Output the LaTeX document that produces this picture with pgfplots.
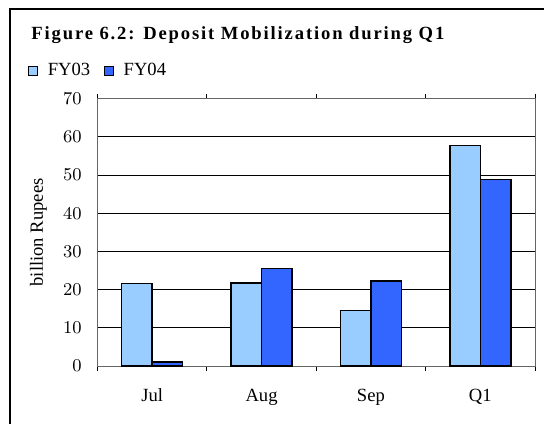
\documentclass[border=0pt]{standalone}
\usepackage{pgfplots}
\pgfplotsset{compat=1.18}
\usepackage{fontspec}
\setmainfont{Liberation Serif}
\newfontfamily\titlefont[LetterSpace=10]{Liberation Serif}
\definecolor{fyA}{RGB}{153,204,255}
\definecolor{fyB}{RGB}{51,102,255}

\begin{document}
\begin{tikzpicture}[font=\fontsize{9.3}{11}\selectfont]
\useasboundingbox (0pt,0pt) rectangle (272pt,212pt);
% outer chart frame (right and bottom edges lie outside the picture)
\draw[black, line width=1.1pt] (5.15pt,0pt) -- (5.15pt,207.35pt) -- (272pt,207.35pt);
\node[anchor=base west, inner sep=0pt, font=\fontsize{9.3}{11}\titlefont\bfseries] at (15.5pt,192.5pt)
  {Figure 6.2: Deposit Mobilization during Q1};
\begin{axis}[
  at={(48.75pt,29pt)}, anchor=south west,
  scale only axis, width=218.75pt, height=133.65pt,
  ybar,
  ymin=0, ymax=70, ytick={0,10,...,70},
  xmin=-0.5, xmax=3.5,
  xtick={0,1,2,3}, xticklabels={Jul,Aug,Sep,Q1},
  minor xtick={-0.5,0.5,1.5,2.5,3.5},
  tick align=outside,
  major tick length=0pt,
  minor tick length=2.5pt,
  minor tick style={black, line width=0.5pt},
  ymajorgrids,
  grid style={black, line width=0.5pt},
  axis line style={black!60, line width=0.5pt},
  ylabel={billion Rupees},
  every axis y label/.style={at={(axis description cs:-0.135,0.5)}, rotate=90, anchor=center},
  yticklabel style={inner sep=0pt, xshift=-7.7pt},
  xticklabel style={inner sep=0pt, anchor=base, yshift=-17.85pt},
  bar width=0.279,
  legend style={at={(axis description cs:-0.159,1.1055)}, anchor=west,
    draw=none, fill=none, inner sep=0pt,
    /tikz/every even column/.append style={column sep=5pt}},
  legend columns=2,
]
\addplot[fill=fyA, draw=black, line width=0.75pt, bar shift=-0.1395,
  legend image code/.code={\draw[fill=fyA, draw=black, line width=0.5pt] (0pt,-2.25pt) rectangle (4.5pt,2.25pt);
    \path[draw=none, fill=none] (4.5pt,0pt) -- (7.5pt,0pt);}]
  coordinates {(0,21.6) (1,21.7) (2,14.5) (3,57.8)};
\addlegendentry{FY03}
\addplot[fill=fyB, draw=black, line width=0.75pt, bar shift=0.1395,
  legend image code/.code={\draw[fill=fyB, draw=black, line width=0.5pt] (0pt,-2.25pt) rectangle (4.5pt,2.25pt);
    \path[draw=none, fill=none] (4.5pt,0pt) -- (7.5pt,0pt);}]
  coordinates {(0,1.1) (1,25.6) (2,22.2) (3,48.9)};
\addlegendentry{FY04}
\end{axis}
\end{tikzpicture}
\end{document}
